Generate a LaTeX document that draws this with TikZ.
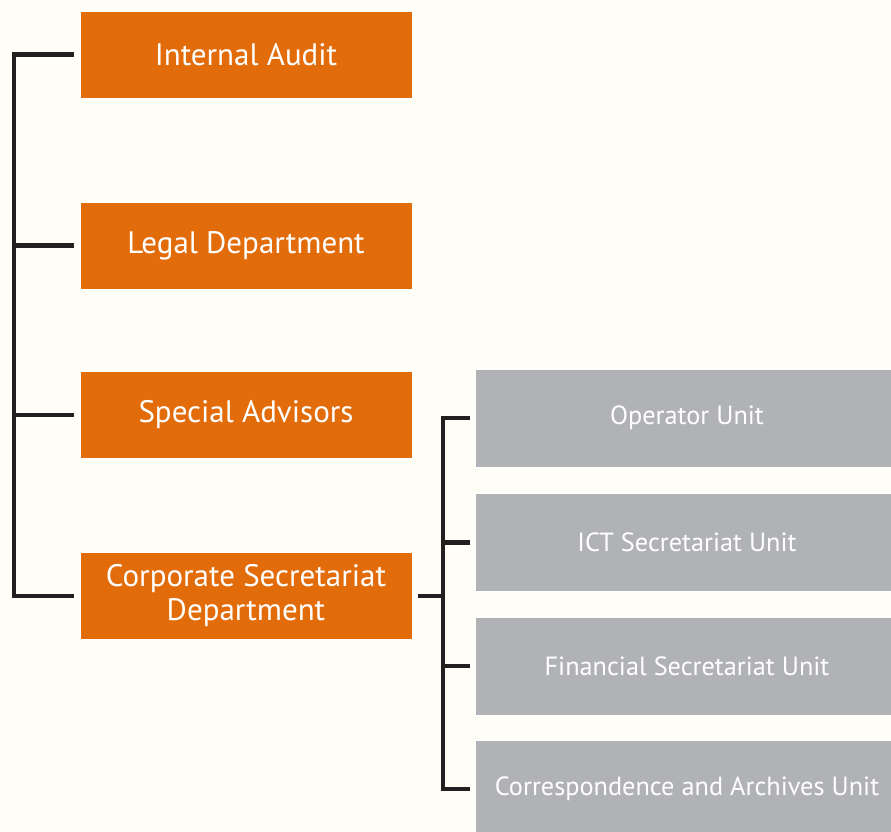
\documentclass[tikz,border=0pt]{standalone}
\usepackage{fontspec}
\setmainfont{PT Sans}
\usepackage{tikz}
\usetikzlibrary{positioning, calc}
\definecolor{bgcream}{HTML}{FFFEF6}
\definecolor{deptorange}{HTML}{E36C0A}
\definecolor{unitgray}{HTML}{B1B2B5}
\definecolor{linkblack}{HTML}{231F20}

\begin{document}
\begin{tikzpicture}[
  x=1pt, y=-1pt,
  dept/.style={draw=white, line width=0.8pt, fill=deptorange, text=white, minimum width=332pt, minimum height=87pt, align=center, inner sep=0pt, font=\fontsize{31}{34}\selectfont},
  unit/.style={draw=white, line width=0.8pt, fill=unitgray, text=white, minimum width=424pt, minimum height=98pt, align=center, inner sep=0pt, font=\fontsize{26.3}{30}\selectfont},
  link/.style={draw=linkblack, line width=4.2pt, line join=miter}
]
\fill[bgcream] (0,0) rectangle (891,831);
\useasboundingbox (0,0) rectangle (891,831);

\node[dept] (d-audit) at (246,54.5) {Internal Audit};
\node[dept] (d-legal) at (246,245.5){Legal Department};
\node[dept] (d-advis) at (246,415)  {Special Advisors};
\node[dept] (d-corp)  at (246,596)  {Corporate Secretariat\\Department};

\node[unit] (u-oper) at (687,418)  {Operator Unit};
\node[unit] (u-ict)  at (687,542.5){ICT Secretariat Unit};
\node[unit] (u-fin)  at (687,666)  {Financial Secretariat Unit};
\node[unit] (u-corr) at (687,789)  {Correspondence and Archives Unit};

% left bus
\coordinate (lbus) at (14,0);
\draw[link] ([xshift=-6pt]d-audit.west) -- (d-audit.west -| lbus) -- (d-corp.west -| lbus) -- ([xshift=-6pt]d-corp.west);
\foreach \d in {d-legal,d-advis}
  \draw[link] ([xshift=-6pt]\d.west) -- (\d.west -| lbus);

% right bus
\coordinate (rbus) at (443,0);
\draw[link] ([xshift=-5pt]u-oper.west) -- (u-oper.west -| rbus) -- (u-corr.west -| rbus) -- ([xshift=-5pt]u-corr.west);
\foreach \u in {u-ict,u-fin}
  \draw[link] ([xshift=-5pt]\u.west) -- (\u.west -| rbus);
\draw[link] ([xshift=6pt]d-corp.east) -- (d-corp.east -| rbus);

\end{tikzpicture}
\end{document}
